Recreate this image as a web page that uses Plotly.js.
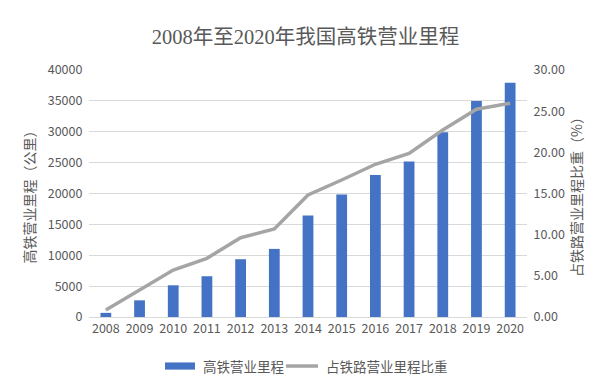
<!DOCTYPE html>
<html>
<head>
<meta charset="utf-8">
<script src="https://cdn.plot.ly/plotly-3.0.1.min.js"></script>
<style>html,body{margin:0;padding:0;background:#fff;}#chart{width:611px;height:386px;}</style>
</head>
<body>
<div id="chart"></div>
<script>
var years = ['2008','2009','2010','2011','2012','2013','2014','2015','2016','2017','2018','2019','2020'];
var hsrMileage = [672, 2699, 5133, 6601, 9356, 11028, 16456, 19838, 22980, 25164, 29904, 35000, 37929];
var hsrShare = [0.85, 3.28, 5.71, 7.13, 9.63, 10.69, 14.82, 16.64, 18.55, 19.88, 22.72, 25.23, 25.96];
var barName = '高铁营业里程';
var lineName = '占铁路营业里程比重';

var fontSans = 'Noto Sans CJK SC, Liberation Sans, sans-serif';
var grey = '#595959';
var barColor = '#4472C4';
var lineColor = '#A5A5A5';

var traces = [
  {type:'bar', x:years, y:hsrMileage, name:barName, marker:{color:barColor}, yaxis:'y'},
  {type:'scatter', mode:'lines', x:years, y:hsrShare, name:lineName, line:{color:lineColor, width:3.5}, yaxis:'y2'}
];

var layout = {
  width:611, height:386,
  margin:{l:89, r:84, t:70, b:69},
  paper_bgcolor:'#fff', plot_bgcolor:'#fff',
  font:{family:fontSans, color:grey, size:12.5},
  title:{text:'2008年至2020年我国高铁营业里程', x:0.5, xanchor:'center', y:0.905, yanchor:'middle',
         font:{family:'Liberation Serif, Noto Sans CJK SC, serif', size:20.5, color:grey}},
  bargap:0.68,
  showlegend:false,
  xaxis:{type:'category', showgrid:false, showline:true, linecolor:'#D9D9D9', linewidth:1, ticks:'',
         tickfont:{size:12.5, color:grey}},
  yaxis:{range:[0,40000], dtick:5000, tickformat:'d', showgrid:true, gridcolor:'#D9D9D9', gridwidth:1, zeroline:false,
         tickfont:{size:12.5, color:grey}, ticksuffix:'  ',
         title:{text:'高铁营业里程（公里）', font:{size:14, color:grey}, standoff:8}},
  yaxis2:{range:[0,30], dtick:5, tickformat:'.2f', overlaying:'y', side:'right', showgrid:false, zeroline:false,
          tickfont:{size:12.5, color:grey}, tickprefix:'  ',
          title:{text:'占铁路营业里程比重（%）', font:{size:14, color:grey}, standoff:8}},
  shapes:[
    {type:'rect', xref:'paper', yref:'paper', x0:0.1735, x1:0.242, y0:-0.184, y1:-0.213,
     fillcolor:barColor, line:{width:0}},
    {type:'line', xref:'paper', yref:'paper', x0:0.4498, x1:0.5228, y0:-0.1985, y1:-0.1985,
     line:{color:lineColor, width:3.5}}
  ],
  annotations:[
    {xref:'paper', yref:'paper', x:0.2557, y:-0.1985, xanchor:'left', yanchor:'middle', showarrow:false,
     text:barName, font:{size:13.5, color:grey}},
    {xref:'paper', yref:'paper', x:0.5365, y:-0.1985, xanchor:'left', yanchor:'middle', showarrow:false,
     text:lineName, font:{size:13.5, color:grey}}
  ]
};

Plotly.newPlot('chart', traces, layout, {displayModeBar:false, staticPlot:true});
</script>
</body>
</html>
